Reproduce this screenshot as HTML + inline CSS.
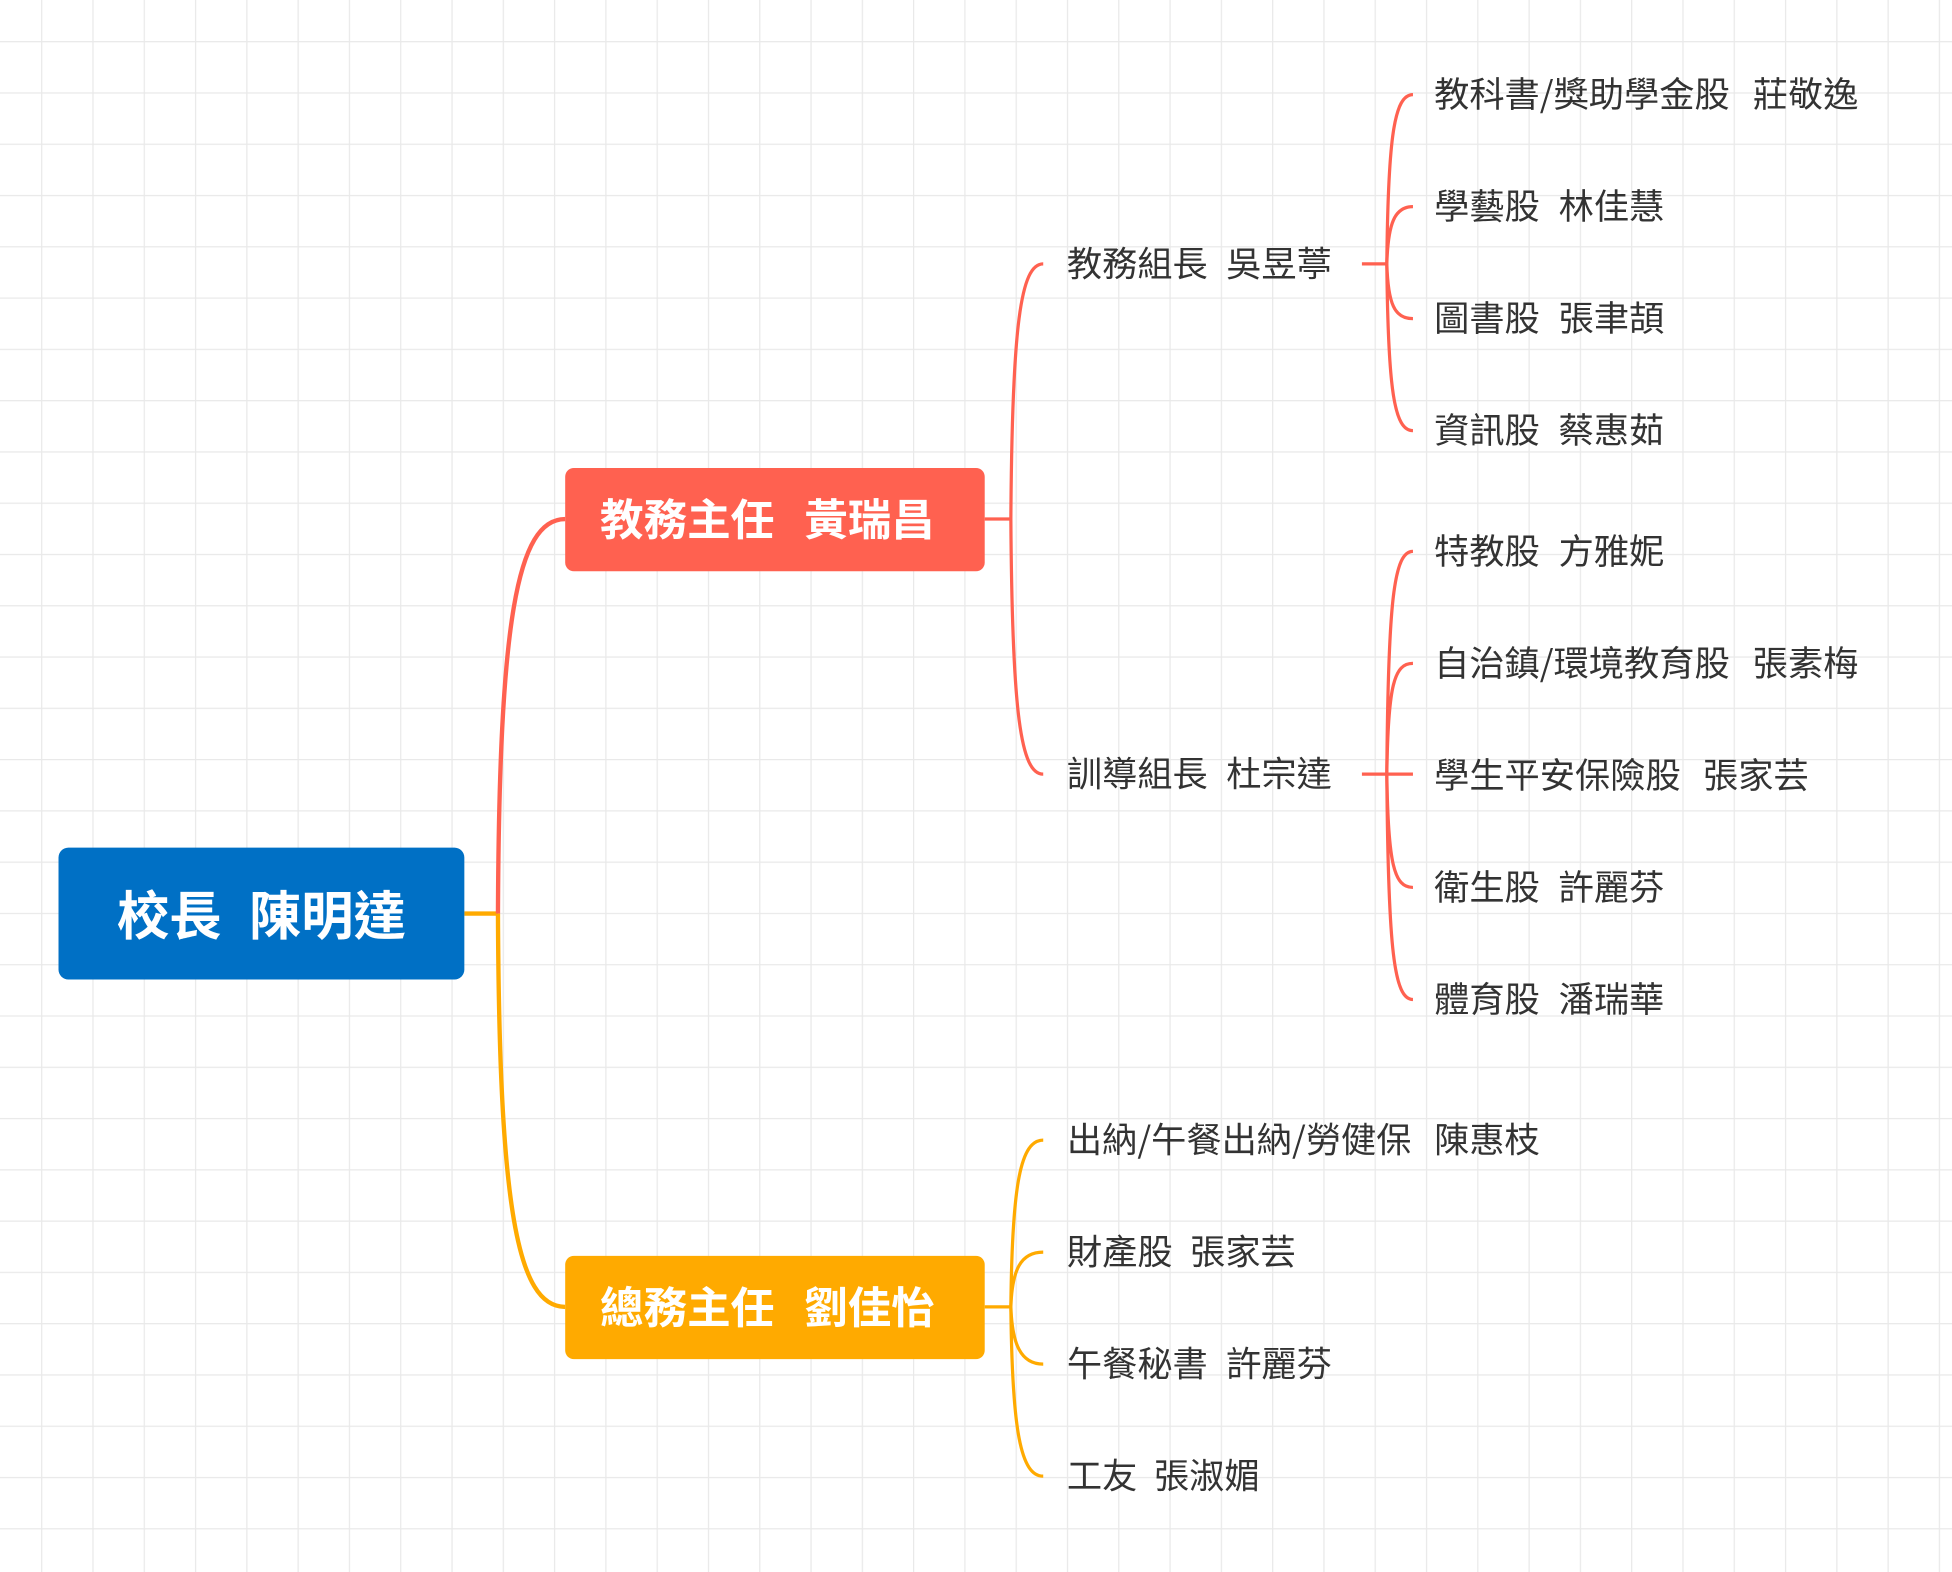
<!DOCTYPE html>
<html><head><meta charset="utf-8"><style>
html,body{margin:0;padding:0;background:#fff}
svg{display:block}
text{font-family:"Noto Sans CJK TC","Liberation Sans",sans-serif}
</style></head><body>
<svg width="1952" height="1572" viewBox="0 0 1568 1263" preserveAspectRatio="none" xmlns="http://www.w3.org/2000/svg">
<defs>
<pattern id="g" x="33" y="33" width="41.2" height="41.2" patternUnits="userSpaceOnUse">
<path d="M0 0 H41.2 M0 0 V41.2" stroke="#e9e9e9" stroke-width="2" fill="none"/>
</pattern>
</defs>
<rect width="1568" height="1263" fill="#fff"/>
<rect width="1568" height="1263" fill="url(#g)"/>

<g fill="none" stroke-width="3.5">
<path d="M373 734 H400" stroke="#ffaa00"/>
<path d="M400 734 C401 500, 415 417, 454 417" stroke="#ff6150"/>
<path d="M400 734 C401 968, 415 1050, 454 1050" stroke="#ffaa00"/>
</g>

<g fill="none" stroke="#ff6150" stroke-width="2.6">
<path d="M791 417 H812"/>
<path d="M812 417 C813 260, 820 212, 838 212"/>
<path d="M812 417 C813 574, 820 622, 838 622"/>
<path d="M1094 212 H1114"/>
<path d="M1114 212 C1115 110, 1120 76, 1135 76"/>
<path d="M1114 212 C1115 180, 1120 166, 1135 166"/>
<path d="M1114 212 C1115 244, 1120 256, 1135 256"/>
<path d="M1114 212 C1115 314, 1120 346, 1135 346"/>
<path d="M1094 622 H1135"/>
<path d="M1114 622 C1115 480, 1120 443, 1135 443"/>
<path d="M1114 622 C1115 550, 1120 533, 1135 533"/>
<path d="M1114 622 C1115 695, 1120 713, 1135 713"/>
<path d="M1114 622 C1115 765, 1120 803, 1135 803"/>
</g>
<g fill="none" stroke="#ffaa00" stroke-width="2.6">
<path d="M791 1050 H812"/>
<path d="M812 1050 C813 950, 820 916, 838 916"/>
<path d="M812 1050 C813 1020, 820 1006, 838 1006"/>
<path d="M812 1050 C813 1080, 820 1096, 838 1096"/>
<path d="M812 1050 C813 1150, 820 1186, 838 1186"/>
</g>

<rect x="47" y="681" width="326" height="106" rx="8" fill="#0070c5"/>
<rect x="454" y="376" width="337" height="83" rx="7" fill="#ff6150"/>
<rect x="454" y="1009" width="337" height="83" rx="7" fill="#ffaa00"/>

<g transform="translate(0,-2)">
<text y="735" font-size="42" font-weight="bold" fill="#fff" dominant-baseline="central"><tspan x="94">校長</tspan><tspan x="200">陳明達</tspan></text>
<text y="417" font-size="35" font-weight="bold" fill="#fff" dominant-baseline="central"><tspan x="482">教務主任</tspan><tspan x="646">黃瑞昌</tspan></text>
<text y="1050" font-size="35" font-weight="bold" fill="#fff" dominant-baseline="central"><tspan x="482">總務主任</tspan><tspan x="646">劉佳怡</tspan></text>

<g font-size="28.3" fill="#333" dominant-baseline="central">
<text y="212"><tspan x="857">教務組長</tspan><tspan x="985">吳昱葶</tspan></text>
<text y="622"><tspan x="857">訓導組長</tspan><tspan x="985">杜宗達</tspan></text>
<text y="76"><tspan x="1152">教科書/獎助學金股</tspan><tspan x="1408">莊敬逸</tspan></text>
<text y="166"><tspan x="1152">學藝股</tspan><tspan x="1252">林佳慧</tspan></text>
<text y="256"><tspan x="1152">圖書股</tspan><tspan x="1252">張聿頡</tspan></text>
<text y="346"><tspan x="1152">資訊股</tspan><tspan x="1252">蔡惠茹</tspan></text>
<text y="443"><tspan x="1152">特教股</tspan><tspan x="1252">方雅妮</tspan></text>
<text y="533"><tspan x="1152">自治鎮/環境教育股</tspan><tspan x="1408">張素梅</tspan></text>
<text y="623"><tspan x="1152">學生平安保險股</tspan><tspan x="1368">張家芸</tspan></text>
<text y="713"><tspan x="1152">衛生股</tspan><tspan x="1252">許麗芬</tspan></text>
<text y="803"><tspan x="1152">體育股</tspan><tspan x="1252">潘瑞華</tspan></text>
<text y="916"><tspan x="857">出納/午餐出納/勞健保</tspan><tspan x="1152">陳惠枝</tspan></text>
<text y="1006"><tspan x="857">財產股</tspan><tspan x="956">張家芸</tspan></text>
<text y="1096"><tspan x="857">午餐秘書</tspan><tspan x="985">許麗芬</tspan></text>
<text y="1186"><tspan x="857">工友</tspan><tspan x="927">張淑媚</tspan></text>
</g>
</g>
</svg>
</body></html>
